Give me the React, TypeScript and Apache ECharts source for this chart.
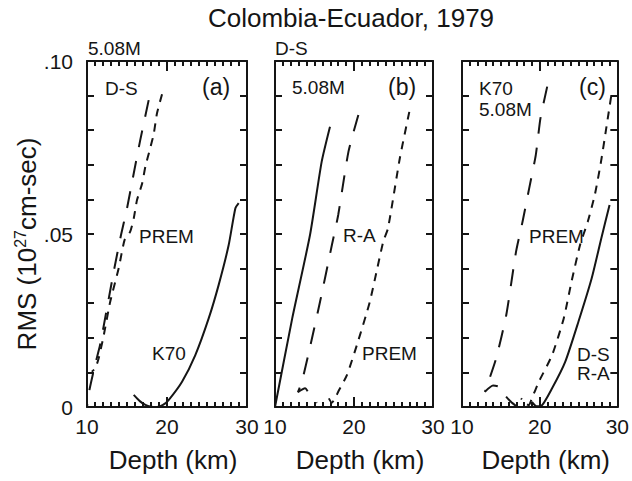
import React, { useEffect, useRef } from 'react';
import * as echarts from 'echarts';

// ---------- text ----------
const chartTitle = 'Colombia-Ecuador, 1979';
const xAxisName = 'Depth (km)';
const yTickValues = [0, 0.05, 0.1];
const yTickLabels = ['0', '.05', '.10'];

// ---------- data: [depth km, RMS] ----------
// Panel (a)
const aLongDash = [
  [17.71, 0.0887], [16.66, 0.0772], [15.84, 0.0675], [15.0, 0.0574], [14.25, 0.0497],
  [13.38, 0.0396], [12.5, 0.0286], [11.63, 0.0179], [11.0, 0.0121], [10.25, 0.0043], [10.0, 0.0],
];
const aShortDash = [
  [19.38, 0.0904], [18.75, 0.0849], [18.34, 0.0789], [17.9, 0.0748], [17.3, 0.0695],
  [16.9, 0.0647], [16.25, 0.0598], [15.84, 0.0545], [15.4, 0.0507], [14.7, 0.0483],
  [13.96, 0.0401], [12.9, 0.0304], [12.1, 0.0208], [11.46, 0.0141], [11.04, 0.0112], [10.6, 0.0102],
];
const aSolid = [
  [15.84, 0.0035], [16.6, 0.0017], [17.3, 0.0006], [18.0, 0.0001], [18.75, 0.0], [19.5, 0.0006],
  [20.2, 0.002], [21.88, 0.0073], [23.54, 0.015], [25.21, 0.0256], [26.46, 0.0353],
  [27.71, 0.0468], [28.54, 0.0574], [28.96, 0.0589],
];
// Panel (b)
const bSolid = [
  [10.0, 0.0], [12.18, 0.0256], [14.43, 0.0497], [15.91, 0.0709], [16.96, 0.081],
];
const bLongDash = [
  [20.55, 0.0844], [19.3, 0.0738], [18.0, 0.0555], [17.2, 0.0468], [15.7, 0.0304],
  [14.4, 0.017], [13.4, 0.0073], [12.9, 0.0043], [13.8, 0.0054], [14.5, 0.0032], [15.3, 0.0012],
];
const bShortDash = [
  [27.0, 0.0853], [25.8, 0.0719], [24.3, 0.0516], [23.7, 0.0478], [22.0, 0.0304],
  [20.5, 0.0189], [19.1, 0.0092], [18.0, 0.0044], [17.7, 0.003], [17.2, 0.0012], [16.7, 0.003],
];
// Panel (c)
const cLongDash = [
  [20.97, 0.0926], [20.1, 0.0834], [19.5, 0.0728], [18.65, 0.0632], [17.8, 0.0536],
  [16.96, 0.0449], [15.7, 0.0266], [14.4, 0.0141], [13.4, 0.0073], [12.95, 0.0044],
  [14.0, 0.0062], [14.85, 0.0058], [15.5, 0.0035], [16.3, 0.0015], [17.0, 0.0002],
];
const cShortDash = [
  [29.2, 0.0897], [28.57, 0.0805], [27.9, 0.0709], [27.1, 0.0613], [26.2, 0.0536],
  [25.2, 0.0468], [24.1, 0.0362], [23.1, 0.0256], [21.6, 0.015], [19.9, 0.0073],
  [19.0, 0.0025], [18.6, 0.0005], [18.1, 0.0012], [17.6, 0.0025],
];
const cSolid = [
  [19.0, 0.0015], [19.6, 0.0002], [20.2, 0.0003], [21.6, 0.0054], [23.3, 0.0131],
  [25.0, 0.0247], [26.7, 0.0372], [27.94, 0.0488], [29.0, 0.0584],
];

const FONT = "'Liberation Sans', Arial, Helvetica, sans-serif";
const INK = '#151515';
const LONG_DASH = [17, 14];
const SHORT_DASH = [8, 7];

function yLabel(v: number) {
  for (let k = 0; k < yTickValues.length; k++) {
    if (Math.abs(yTickValues[k] - v) < 1e-6) return yTickLabels[k];
  }
  return '';
}

function buildOption() {
  const grids = [
    { left: 87, top: 61, width: 160, height: 346 },
    { left: 275, top: 61, width: 158, height: 346 },
    { left: 462, top: 61, width: 158, height: 346 },
  ];
  const xAxes: any[] = [];
  const yAxes: any[] = [];
  grids.forEach((_, i) => {
    ['bottom', 'top'].forEach((pos) => {
      const labels = pos === 'bottom';
      xAxes.push({
        type: 'value', gridIndex: i, position: pos, min: 10, max: 30, interval: 10,
        splitLine: { show: false },
        axisLine: { show: true, onZero: false, lineStyle: { color: INK, width: 2 } },
        axisTick: { show: true, inside: true, length: 10, lineStyle: { color: INK, width: 2 } },
        minorTick: { show: true, splitNumber: 10, length: 5, lineStyle: { color: INK, width: 2 } },
        axisLabel: labels ? { show: true, fontSize: 21, fontFamily: FONT, color: INK, margin: 9 } : { show: false },
        name: labels ? xAxisName : '',
        nameLocation: 'middle', nameGap: 40,
        nameTextStyle: { fontSize: 26, fontFamily: FONT, color: INK, padding: [0, 0, 0, 12] },
      });
    });
    ['left', 'right'].forEach((pos) => {
      const labels = pos === 'left' && i === 0;
      yAxes.push({
        type: 'value', gridIndex: i, position: pos, min: 0, max: 0.1, interval: 0.01,
        splitLine: { show: false },
        axisLine: { show: true, onZero: false, lineStyle: { color: INK, width: 2 } },
        axisTick: { show: true, inside: true, length: 7, lineStyle: { color: INK, width: 2 } },
        axisLabel: labels
          ? { show: true, fontSize: 21, fontFamily: FONT, color: INK, margin: 14, formatter: (v: number) => yLabel(v) }
          : { show: false },
      });
    });
  });

  const mk = (data: number[][], g: number, dash: any) => ({
    type: 'line', xAxisIndex: g * 2, yAxisIndex: g * 2, data,
    showSymbol: false, symbol: 'none', smooth: 0.2, clip: true, silent: true,
    lineStyle: { color: INK, width: 2, type: dash },
  });
  const series = [
    mk(aLongDash, 0, LONG_DASH),
    mk(aShortDash, 0, SHORT_DASH),
    mk(aSolid, 0, 'solid'),
    mk(bSolid, 1, 'solid'),
    mk(bLongDash, 1, LONG_DASH),
    mk(bShortDash, 1, SHORT_DASH),
    mk(cLongDash, 2, LONG_DASH),
    mk(cShortDash, 2, SHORT_DASH),
    mk(cSolid, 2, 'solid'),
  ];

  const txt = (text: string, x: number, y: number, fontSize = 19, align = 'left') => ({
    type: 'text', x, y, silent: true,
    style: { text, fontSize, fontFamily: FONT, fill: INK, align, verticalAlign: 'middle' },
  });
  const graphic: any[] = [
    txt(chartTitle, 351, 18, 26, 'center'),
    txt('5.08M', 88, 48),
    txt('D-S', 275, 48),
    txt('D-S', 105, 88),
    txt('(a)', 202, 87, 23),
    txt('PREM', 139, 236),
    txt('K70', 152, 353),
    txt('5.08M', 292, 87),
    txt('(b)', 388, 87, 23),
    txt('R-A', 343, 235),
    txt('PREM', 362, 353),
    txt('K70', 479, 88),
    txt('5.08M', 479, 109),
    txt('(c)', 579, 87, 23),
    txt('PREM', 529, 236),
    txt('D-S', 577, 354),
    txt('R-A', 577, 373),
    {
      type: 'text', x: 27, y: 244, rotation: Math.PI / 2, silent: true,
      style: {
        text: '{m|RMS (10}{s|27}{m|cm-sec)}', fontFamily: FONT, fill: INK, align: 'center', verticalAlign: 'middle',
        rich: {
          m: { fontSize: 26, fontFamily: FONT, fill: INK, lineHeight: 30 },
          s: { fontSize: 16, fontFamily: FONT, fill: INK, verticalAlign: 'top', lineHeight: 30 },
        },
      },
    },
  ];
  return { animation: false, backgroundColor: '#ffffff', grid: grids, xAxis: xAxes, yAxis: yAxes, series, graphic };
}

export default function App() {
  const ref = useRef<HTMLDivElement>(null);
  useEffect(() => {
    if (!ref.current) return;
    const chart = echarts.init(ref.current, undefined, { renderer: 'svg' });
    chart.setOption(buildOption());
    return () => chart.dispose();
  }, []);
  return (
    <div style={{ position: 'absolute', left: 0, top: 0, width: 632, height: 481 }}>
      <div ref={ref} style={{ width: 632, height: 481 }} />
    </div>
  );
}
